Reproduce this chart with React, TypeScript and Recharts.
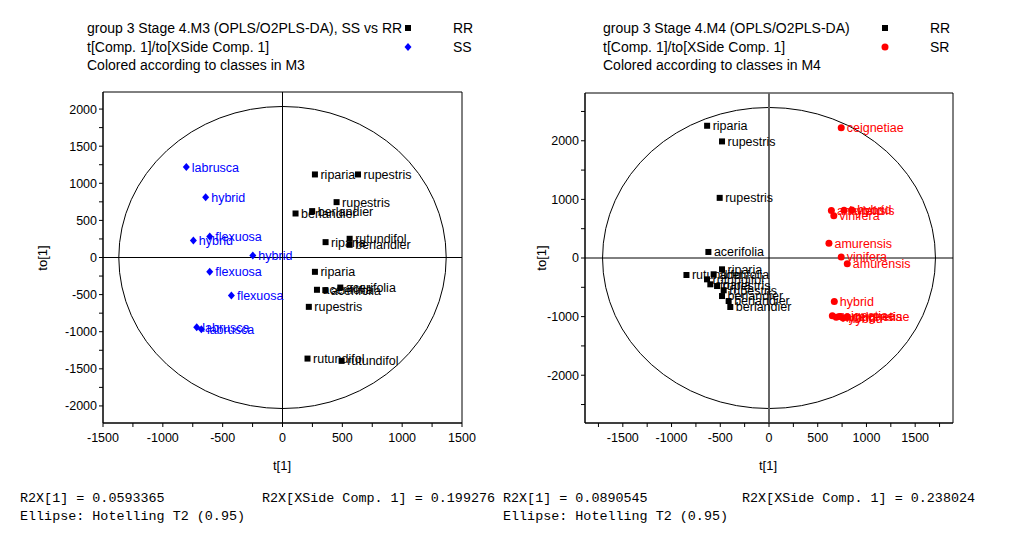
import React from "react";
import {
  ScatterChart,
  Scatter,
  XAxis,
  YAxis,
  ReferenceLine,
  ReferenceArea,
  LabelList,
} from "recharts";

type Pt = { x: number; y: number; name: string };

// M3: SS (blue) vs RR (black)
const m3Ss: Pt[] = [
  { x: -804, y: 1218, name: "labrusca" },
  { x: -642, y: 813, name: "hybrid" },
  { x: -745, y: 229, name: "hybrid" },
  { x: -608, y: 283, name: "flexuosa" },
  { x: -248, y: 27, name: "hybrid" },
  { x: -608, y: -193, name: "flexuosa" },
  { x: -427, y: -512, name: "flexuosa" },
  { x: -717, y: -939, name: "labrusca" },
  { x: -678, y: -966, name: "labrusca" },
];

const m3Rr: Pt[] = [
  { x: 271, y: 1119, name: "riparia" },
  { x: 631, y: 1119, name: "rupestris" },
  { x: 452, y: 746, name: "rupestris" },
  { x: 109, y: 593, name: "berlandier" },
  { x: 248, y: 625, name: "berlandier" },
  { x: 360, y: 207, name: "riparia" },
  { x: 561, y: 252, name: "rutundifol" },
  { x: 561, y: 171, name: "berlandier" },
  { x: 271, y: -193, name: "riparia" },
  { x: 288, y: -435, name: "acerifolia" },
  { x: 358, y: -440, name: "acerifolia" },
  { x: 483, y: -405, name: "acerifolia" },
  { x: 220, y: -665, name: "rupestris" },
  { x: 209, y: -1362, name: "rutundifol" },
  { x: 494, y: -1393, name: "rutundifol" },
];

// M4: RR (black) vs SR (red)
const m4Rr: Pt[] = [
  { x: -635, y: 2256, name: "riparia" },
  { x: -482, y: 1989, name: "rupestris" },
  { x: -506, y: 1026, name: "rupestris" },
  { x: -622, y: 103, name: "acerifolia" },
  { x: -847, y: -290, name: "rutundifol" },
  { x: -482, y: -193, name: "riparia" },
  { x: -568, y: -278, name: "acerifolia" },
  { x: -636, y: -364, name: "rutundifol" },
  { x: -602, y: -449, name: "riparia" },
  { x: -533, y: -478, name: "rupestris" },
  { x: -465, y: -551, name: "rupestris" },
  { x: -482, y: -649, name: "berlandier" },
  { x: -414, y: -734, name: "berlandier" },
  { x: -397, y: -836, name: "berlandier" },
];

const m4Sr: Pt[] = [
  { x: 741, y: 2222, name: "ceignetiae" },
  { x: 640, y: 810, name: "amurensis" },
  { x: 665, y: 720, name: "vinifera" },
  { x: 770, y: 815, name: "hybrid" },
  { x: 850, y: 820, name: "hybrid" },
  { x: 615, y: 251, name: "amurensis" },
  { x: 741, y: 17, name: "vinifera" },
  { x: 803, y: -97, name: "amurensis" },
  { x: 670, y: -741, name: "hybrid" },
  { x: 650, y: -985, name: "ceignetiae" },
  { x: 690, y: -1010, name: "hybrid" },
  { x: 720, y: -1000, name: "amurensis" },
  { x: 760, y: -1025, name: "hybrid" },
  { x: 800, y: -1005, name: "ceignetiae" },
];

const m3XDomain = [-1500, 1500];
const m3YDomain = [-2230, 2230];
const m3XTicks = [-1500, -1250, -1000, -750, -500, -250, 0, 250, 500, 750, 1000, 1250, 1500];
const m3YTicks = [-2000, -1750, -1500, -1250, -1000, -750, -500, -250, 0, 250, 500, 750, 1000, 1250, 1500, 1750, 2000];
const m3Ellipse = [1368, 2035];

const m4XDomain = [-1888, 1888];
const m4YDomain = [-2815, 2815];
const m4XTicks = [-1750, -1500, -1250, -1000, -750, -500, -250, 0, 250, 500, 750, 1000, 1250, 1500, 1750];
const m4YTicks = [-2500, -2000, -1500, -1000, -500, 0, 500, 1000, 1500, 2000, 2500];
const m4Ellipse = [1708, 2568];

const SANS = "'Liberation Sans', Arial, sans-serif";
const MONO = "'Liberation Mono', 'DejaVu Sans Mono', monospace";
const BLUE = "#0000ff";
const RED = "#ff0000";

const squareShape = (p: any) => (
  <rect x={p.cx - 3} y={p.cy - 3} width={6} height={6} fill="#000" />
);
const diamondShape = (p: any) => (
  <path
    d={`M${p.cx},${p.cy - 4}L${p.cx + 3.5},${p.cy}L${p.cx},${p.cy + 4}L${p.cx - 3.5},${p.cy}Z`}
    fill={BLUE}
  />
);
const circleShape = (p: any) => <circle cx={p.cx} cy={p.cy} r={3.5} fill={RED} />;

const ellipseShape = (p: any) => (
  <ellipse
    cx={p.x + p.width / 2}
    cy={p.y + p.height / 2}
    rx={Math.abs(p.width) / 2}
    ry={Math.abs(p.height) / 2}
    fill="none"
    stroke="#000"
    strokeWidth={1}
  />
);

const tick = { fontSize: 12.5, fill: "#000", fontFamily: SANS };

function labels(color: string) {
  return (
    <LabelList
      dataKey="name"
      position="right"
      offset={1}
      fill={color}
      fontSize={12.5}
      fontFamily={SANS}
    />
  );
}

function Header({
  left,
  lines,
  legendX,
  items,
}: {
  left: number;
  lines: string[];
  legendX: number;
  items: { label: string; marker: React.ReactNode }[];
}) {
  return (
    <>
      {lines.map((t, i) => (
        <div
          key={i}
          style={{
            position: "absolute",
            left,
            top: 19 + i * 18.5,
            fontSize: 14,
            lineHeight: "18px",
            whiteSpace: "nowrap",
          }}
        >
          {t}
        </div>
      ))}
      {items.map((it, i) => (
        <React.Fragment key={i}>
          <svg
            width={10}
            height={10}
            style={{ position: "absolute", left: legendX - 5, top: 23 + i * 18.5 }}
          >
            {it.marker}
          </svg>
          <div
            style={{
              position: "absolute",
              left: legendX + 45,
              top: 19 + i * 18.5,
              fontSize: 14,
              lineHeight: "18px",
            }}
          >
            {it.label}
          </div>
        </React.Fragment>
      ))}
    </>
  );
}

function Plot({
  left,
  margin,
  xDomain,
  yDomain,
  xTicks,
  yTicks,
  xMajor,
  yMajor,
  ellipse,
  vZeroColor,
  vZeroWidth,
  children,
}: any) {
  return (
    <ScatterChart
      width={500}
      height={470}
      margin={margin}
      style={{ position: "absolute", left, top: 0 }}
    >
      <XAxis
        type="number"
        dataKey="x"
        domain={xDomain}
        ticks={xTicks}
        interval={0}
        tickFormatter={(v: number) => (v % xMajor === 0 ? String(v) : "")}
        tick={tick}
        tickSize={4}
        tickMargin={6}
        stroke="#000"
        height={30}
        allowDataOverflow
      />
      <YAxis
        type="number"
        dataKey="y"
        domain={yDomain}
        ticks={yTicks}
        interval={0}
        tickFormatter={(v: number) => (v % yMajor === 0 ? String(v) : "")}
        tick={tick}
        tickSize={4}
        tickMargin={2}
        stroke="#000"
        width={50}
        allowDataOverflow
      />
      <ReferenceArea
        x1={xDomain[0]}
        x2={xDomain[1]}
        y1={yDomain[0]}
        y2={yDomain[1]}
        fill="none"
        stroke="#000"
        strokeWidth={1}
        fillOpacity={0}
      />
      <ReferenceArea
        x1={-ellipse[0]}
        x2={ellipse[0]}
        y1={-ellipse[1]}
        y2={ellipse[1]}
        shape={ellipseShape}
      />
      <ReferenceLine x={0} stroke={vZeroColor} strokeWidth={vZeroWidth} />
      <ReferenceLine y={0} stroke="#000" strokeWidth={1} />
      {children}
    </ScatterChart>
  );
}

export default function App() {
  return (
    <div
      style={{
        position: "absolute",
        left: 0,
        top: 0,
        width: 1026,
        height: 540,
        background: "#fff",
        fontFamily: SANS,
        color: "#000",
        overflow: "hidden",
      }}
    >
      <Header
        left={87}
        lines={[
          "group 3 Stage 4.M3 (OPLS/O2PLS-DA), SS vs RR",
          "t[Comp. 1]/to[XSide Comp. 1]",
          "Colored according to classes in M3",
        ]}
        legendX={408}
        items={[
          { label: "RR", marker: <rect x={2} y={2} width={6} height={6} fill="#000" /> },
          { label: "SS", marker: <path d="M5,1L8.5,5L5,9L1.5,5Z" fill={BLUE} /> },
        ]}
      />
      <Header
        left={603}
        lines={[
          "group 3 Stage 4.M4 (OPLS/O2PLS-DA)",
          "t[Comp. 1]/to[XSide Comp. 1]",
          "Colored according to classes in M4",
        ]}
        legendX={885}
        items={[
          { label: "RR", marker: <rect x={2} y={2} width={6} height={6} fill="#000" /> },
          { label: "SR", marker: <circle cx={5} cy={5} r={3.5} fill={RED} /> },
        ]}
      />

      <Plot
        left={0}
        margin={{ top: 92, right: 38, bottom: 17, left: 53 }}
        xDomain={m3XDomain}
        yDomain={m3YDomain}
        xTicks={m3XTicks}
        yTicks={m3YTicks}
        xMajor={500}
        yMajor={500}
        ellipse={m3Ellipse}
        vZeroColor="#000"
        vZeroWidth={1}
      >
        <Scatter data={m3Ss} shape={diamondShape} isAnimationActive={false}>
          {labels(BLUE)}
        </Scatter>
        <Scatter data={m3Rr} shape={squareShape} isAnimationActive={false}>
          {labels("#000")}
        </Scatter>
      </Plot>

      <Plot
        left={500}
        margin={{ top: 93, right: 47, bottom: 17, left: 35 }}
        xDomain={m4XDomain}
        yDomain={m4YDomain}
        xTicks={m4XTicks}
        yTicks={m4YTicks}
        xMajor={500}
        yMajor={1000}
        ellipse={m4Ellipse}
        vZeroColor="#666"
        vZeroWidth={2}
      >
        <Scatter data={m4Rr} shape={squareShape} isAnimationActive={false}>
          {labels("#000")}
        </Scatter>
        <Scatter data={m4Sr} shape={circleShape} isAnimationActive={false}>
          {labels(RED)}
        </Scatter>
      </Plot>

      <div style={{ position: "absolute", left: 42, top: 258, transform: "translate(-50%,-50%) rotate(-90deg)", fontSize: 13 }}>
        to[1]
      </div>
      <div style={{ position: "absolute", left: 541, top: 258, transform: "translate(-50%,-50%) rotate(-90deg)", fontSize: 13 }}>
        to[1]
      </div>
      <div style={{ position: "absolute", left: 282, top: 465, transform: "translate(-50%,-50%)", fontSize: 13 }}>
        t[1]
      </div>
      <div style={{ position: "absolute", left: 768, top: 465, transform: "translate(-50%,-50%)", fontSize: 13 }}>
        t[1]
      </div>

      {[
        { left: 20, top: 491, text: "R2X[1] = 0.0593365" },
        { left: 262, top: 491, text: "R2X[XSide Comp. 1] = 0.199276" },
        { left: 20, top: 509, text: "Ellipse: Hotelling T2 (0.95)" },
        { left: 503, top: 491, text: "R2X[1] = 0.0890545" },
        { left: 742, top: 491, text: "R2X[XSide Comp. 1] = 0.238024" },
        { left: 503, top: 509, text: "Ellipse: Hotelling T2 (0.95)" },
      ].map((t, i) => (
        <div
          key={i}
          style={{
            position: "absolute",
            left: t.left,
            top: t.top,
            fontFamily: MONO,
            fontSize: 13.4,
            lineHeight: "16px",
            whiteSpace: "pre",
          }}
        >
          {t.text}
        </div>
      ))}
    </div>
  );
}
